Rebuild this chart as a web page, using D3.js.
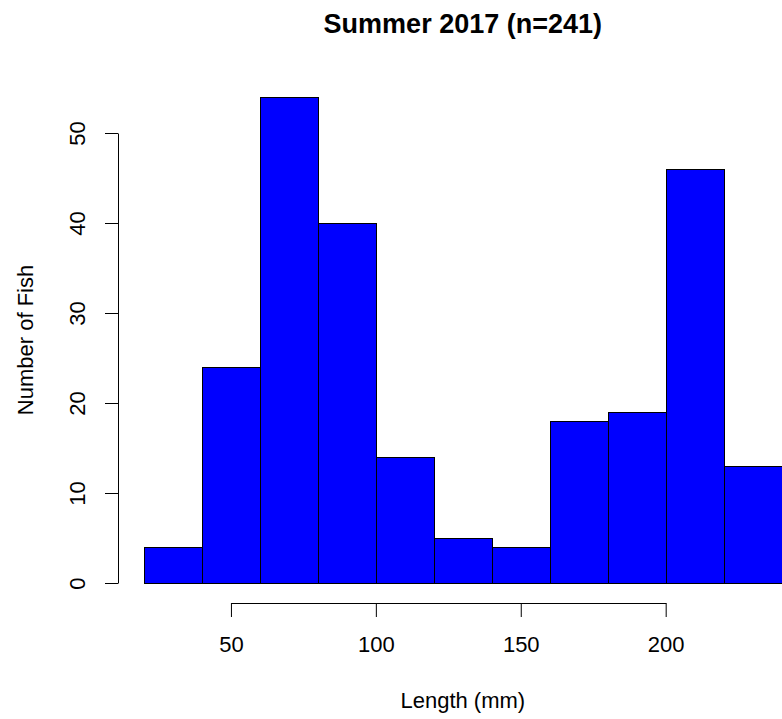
<!doctype html>
<html>
<head>
<meta charset="utf-8">
<title>Summer 2017 histogram</title>
<script src="https://cdn.jsdelivr.net/npm/d3@7"></script>
<style>
body { margin: 0; background: #fff; }
text { font-family: "Liberation Sans", Arial, sans-serif; fill: #000; }
.axis line, .axis path { stroke: #000; stroke-width: 1; fill: none; }
.bar { fill: #0000ff; stroke: #000; stroke-width: 1; }
</style>
</head>
<body>
<div id="chart"></div>
<script>
// histogram bins (mm) and counts
var binStarts = [20, 40, 60, 80, 100, 120, 140, 160, 180, 200, 220];
var binWidth = 20;
var counts = [4, 24, 54, 40, 14, 5, 4, 18, 19, 46, 13];
var xTicks = [50, 100, 150, 200];
var yTicks = [0, 10, 20, 30, 40, 50];
var title = "Summer 2017 (n=241)";
var xLabel = "Length (mm)";
var yLabel = "Number of Fish";

var W = 782, H = 719;

var svg = d3.select("#chart").append("svg")
  .attr("width", W)
  .attr("height", H);

// scales (R style: plot region padded 4% past the data range)
var x = d3.scaleLinear().domain([20, 240]).range([144, 781.6]);
var y = d3.scaleLinear().domain([0, 50]).range([583, 133]);

var plotLeft = x(20 - 0.04 * 220), plotRight = x(240 + 0.04 * 220);
var mid = (plotLeft + plotRight) / 2;

// bars
svg.append("g").selectAll("rect")
  .data(counts)
  .enter().append("rect")
  .attr("class", "bar")
  .attr("x", function(d, i) { return Math.round(x(binStarts[i])) + 0.5; })
  .attr("width", function(d, i) { return Math.round(x(binStarts[i] + binWidth)) - Math.round(x(binStarts[i])); })
  .attr("y", function(d) { return Math.round(y(d)) + 0.5; })
  .attr("height", function(d) { return Math.round(y(0)) - Math.round(y(d)); });

// x axis
var xAxisG = svg.append("g")
  .attr("class", "axis")
  .attr("transform", "translate(0,603)")
  .call(d3.axisBottom(x).tickValues(xTicks).tickSize(14).tickFormat(d3.format("d")));
xAxisG.select(".domain").remove();
xAxisG.append("line")
  .attr("x1", x(xTicks[0]) + 0.5).attr("x2", x(xTicks[xTicks.length - 1]) + 0.5)
  .attr("y1", 0.5).attr("y2", 0.5);
xAxisG.selectAll(".tick text")
  .attr("y", 49).attr("dy", 0)
  .attr("font-size", 22)
  .attr("fill", "#000")
  .style("font-family", "'Liberation Sans', Arial, sans-serif");

// y axis
var yAxisG = svg.append("g")
  .attr("class", "axis")
  .attr("transform", "translate(118,0)")
  .call(d3.axisLeft(y).tickValues(yTicks).tickSize(13).tickFormat(d3.format("d")));
yAxisG.select(".domain").remove();
yAxisG.append("line")
  .attr("x1", 0.5).attr("x2", 0.5)
  .attr("y1", y(yTicks[0]) + 0.5).attr("y2", y(yTicks[yTicks.length - 1]) + 0.5);
yAxisG.selectAll(".tick text")
  .attr("x", 0).attr("dy", 0)
  .attr("text-anchor", "middle")
  .attr("transform", "translate(-33,0) rotate(-90)")
  .attr("font-size", 22)
  .attr("fill", "#000")
  .style("font-family", "'Liberation Sans', Arial, sans-serif");

// title and axis labels
svg.append("text")
  .attr("x", mid).attr("y", 33)
  .attr("text-anchor", "middle")
  .attr("font-size", 27)
  .attr("font-weight", "bold")
  .text(title);

svg.append("text")
  .attr("x", mid).attr("y", 708)
  .attr("text-anchor", "middle")
  .attr("font-size", 22)
  .text(xLabel);

svg.append("text")
  .attr("transform", "translate(33," + ((y.range()[0] + 602.4 + 77.6 - 583) / 2 + 0) + ") rotate(-90)")
  .attr("text-anchor", "middle")
  .attr("font-size", 22)
  .text(yLabel);
</script>
</body>
</html>
